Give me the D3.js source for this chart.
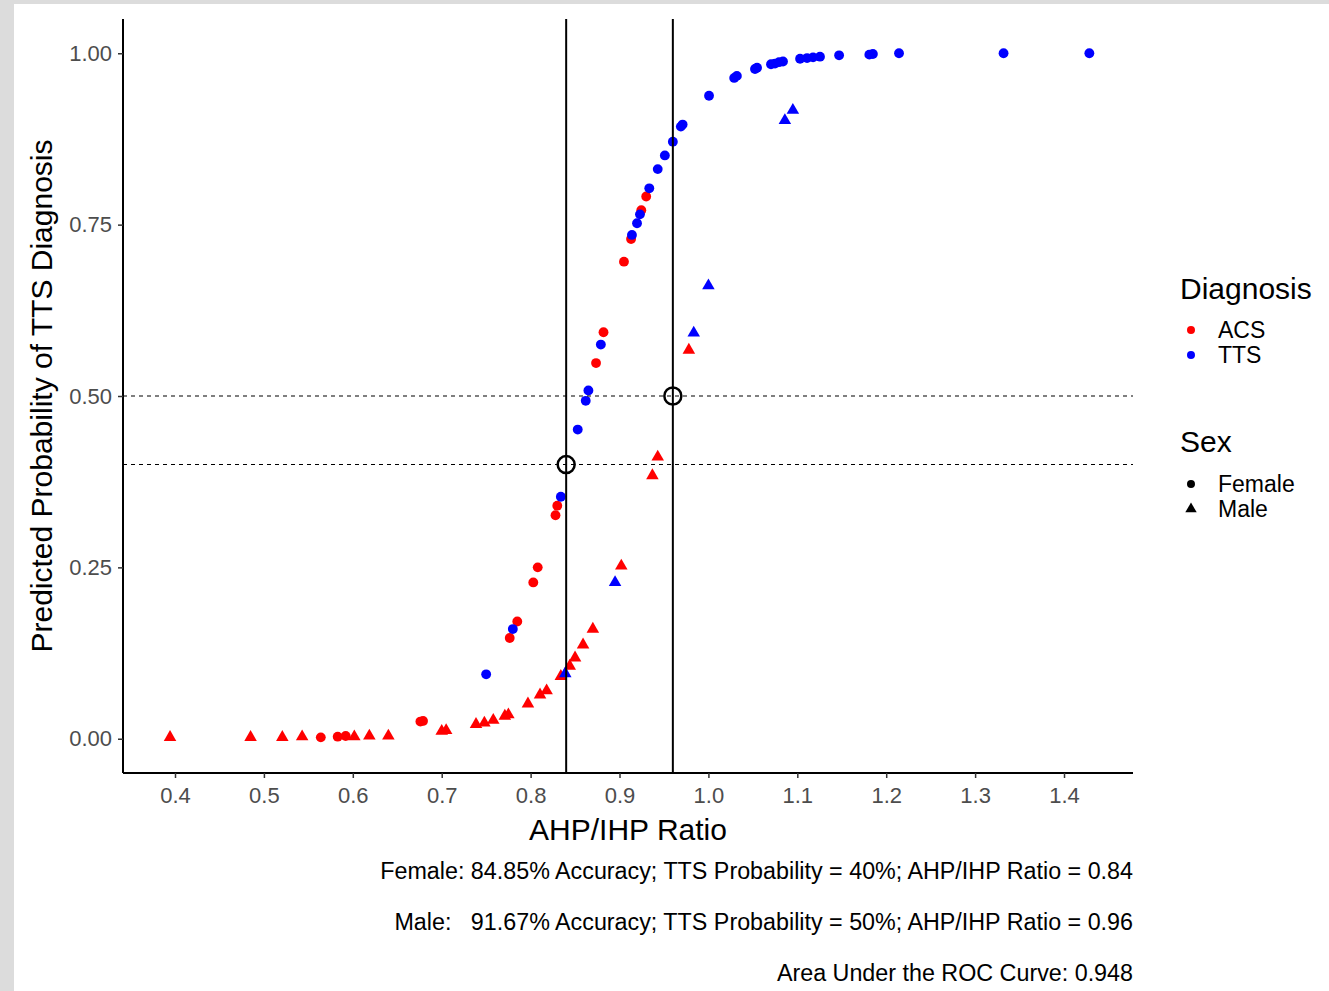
<!DOCTYPE html>
<html>
<head>
<meta charset="utf-8">
<script src="https://cdn.jsdelivr.net/npm/d3@7/dist/d3.min.js"></script>
<style>
  html, body { margin: 0; padding: 0; background: #fff; }
  svg { display: block; font-family: "Liberation Sans", Arial, sans-serif; }
</style>
</head>
<body>
<svg id="chart" width="1329" height="991"></svg>
<script>
// Female, ACS (red circles)
const femaleAcsX = [0.564, 0.583, 0.592, 0.676, 0.679, 0.7765, 0.785, 0.803, 0.808, 0.828, 0.830, 0.8736, 0.882, 0.905, 0.913, 0.9245, 0.930];
const femaleAcsY = [0.002, 0.003, 0.004, 0.025, 0.026, 0.147, 0.171, 0.228, 0.250, 0.326, 0.340, 0.548, 0.593, 0.696, 0.729, 0.771, 0.791];

// Female, TTS (blue circles)
const femaleTtsX = [0.750, 0.780, 0.834, 0.853, 0.862, 0.865, 0.879, 0.914, 0.9197, 0.923, 0.9335, 0.943, 0.951, 0.960, 0.969, 0.971, 1.0007, 1.029, 1.032, 1.0524, 1.0547, 1.0704, 1.0749, 1.0794, 1.0839, 1.1031, 1.111, 1.1177, 1.1255, 1.147, 1.181, 1.185, 1.2144, 1.332, 1.4285];
const femaleTtsY = [0.094, 0.160, 0.353, 0.451, 0.493, 0.508, 0.575, 0.735, 0.752, 0.765, 0.803, 0.831, 0.851, 0.871, 0.893, 0.896, 0.938, 0.964, 0.967, 0.977, 0.979, 0.984, 0.985, 0.987, 0.988, 0.992, 0.993, 0.994, 0.995, 0.997, 0.998, 0.999, 1.0, 1.0, 1.0];

// Male, ACS (red triangles)
const maleAcsX = [0.3944, 0.485, 0.5207, 0.543, 0.6017, 0.6186, 0.640, 0.700, 0.705, 0.7386, 0.748, 0.758, 0.771, 0.775, 0.797, 0.8106, 0.818, 0.834, 0.844, 0.850, 0.859, 0.870, 0.902, 0.937, 0.943, 0.978];
const maleAcsY = [0.002, 0.002, 0.002, 0.003, 0.003, 0.004, 0.004, 0.011, 0.012, 0.021, 0.023, 0.027, 0.033, 0.035, 0.051, 0.064, 0.070, 0.091, 0.106, 0.118, 0.137, 0.160, 0.252, 0.384, 0.411, 0.567];

// Male, TTS (blue triangles)
const maleTtsX = [0.839, 0.895, 0.9835, 1.0, 1.086, 1.095];
const maleTtsY = [0.095, 0.228, 0.592, 0.661, 0.902, 0.917];

// Sex-specific cut-offs: [ratio, probability]
const cutoffRatio = [0.84, 0.96];
const cutoffProb = [0.40, 0.50];

const xTicks = [0.4, 0.5, 0.6, 0.7, 0.8, 0.9, 1.0, 1.1, 1.2, 1.3, 1.4];
const yTicks = [0, 0.25, 0.5, 0.75, 1.0];

const diagnosisLabels = ["ACS", "TTS"];
const diagnosisColors = ["#ff0000", "#0000ff"];
const sexLabels = ["Female", "Male"];

const notes = [
  "Female: 84.85% Accuracy; TTS Probability = 40%; AHP/IHP Ratio = 0.84",
  "Male:   91.67% Accuracy; TTS Probability = 50%; AHP/IHP Ratio = 0.96",
  "Area Under the ROC Curve: 0.948"
];

const svg = d3.select("#chart");
const W = 1329, H = 991;
const panel = { left: 123, right: 1133, top: 19, bottom: 773 };

// page frame
svg.append("rect").attr("width", W).attr("height", H).attr("fill", "#dcdcdc");
svg.append("rect").attr("x", 14).attr("y", 4).attr("width", W - 14).attr("height", H - 4).attr("fill", "#ffffff");

const x = d3.scaleLinear().domain([0.3415, 1.4776]).range([panel.left, panel.right]);
const y = d3.scaleLinear().domain([-0.05, 1.05]).range([panel.bottom, panel.top]);

const zip = (xs, ys) => xs.map((v, i) => ({ x: v, y: ys[i] }));
const groups = [
  { data: zip(femaleAcsX, femaleAcsY), color: diagnosisColors[0], shape: d3.symbolCircle },
  { data: zip(maleAcsX, maleAcsY), color: diagnosisColors[0], shape: d3.symbolTriangle },
  { data: zip(femaleTtsX, femaleTtsY), color: diagnosisColors[1], shape: d3.symbolCircle },
  { data: zip(maleTtsX, maleTtsY), color: diagnosisColors[1], shape: d3.symbolTriangle }
];
const symSize = s => (s === d3.symbolCircle ? 76 : 68);

// points
const pts = svg.append("g");
groups.forEach(g => {
  pts.selectAll(null).data(g.data).enter().append("path")
    .attr("d", d3.symbol().type(g.shape).size(symSize(g.shape)))
    .attr("transform", d => `translate(${x(d.x)},${y(d.y)})`)
    .attr("fill", g.color);
});

// reference lines
const ref = svg.append("g");
cutoffProb.forEach(p => {
  ref.append("line")
    .attr("x1", panel.left).attr("x2", panel.right)
    .attr("y1", y(p)).attr("y2", y(p))
    .attr("stroke", "#000").attr("stroke-width", 1.1).attr("stroke-dasharray", "4,4");
});
cutoffRatio.forEach(r => {
  ref.append("line")
    .attr("x1", x(r)).attr("x2", x(r))
    .attr("y1", panel.top).attr("y2", panel.bottom)
    .attr("stroke", "#000").attr("stroke-width", 2);
});
cutoffRatio.forEach((r, i) => {
  ref.append("circle")
    .attr("cx", x(r)).attr("cy", y(cutoffProb[i])).attr("r", 8.5)
    .attr("fill", "none").attr("stroke", "#000").attr("stroke-width", 2.5);
});

// axes
const xAxis = svg.append("g").attr("transform", `translate(0,${panel.bottom})`)
  .call(d3.axisBottom(x).tickValues(xTicks).tickFormat(d3.format(".1f")).tickSize(5).tickSizeOuter(0).tickPadding(9));
const yAxis = svg.append("g").attr("transform", `translate(${panel.left},0)`)
  .call(d3.axisLeft(y).tickValues(yTicks).tickFormat(d3.format(".2f")).tickSize(5).tickSizeOuter(0).tickPadding(6));
[xAxis, yAxis].forEach(a => {
  a.select(".domain").attr("stroke", "#000").attr("stroke-width", 2);
  a.selectAll(".tick line").attr("stroke", "#333").attr("stroke-width", 1.5);
  a.selectAll(".tick text").attr("fill", "#4d4d4d").style("font-size", "22px").style("font-family", "Liberation Sans, Arial, sans-serif");
});
// axis lines span the full panel
xAxis.select(".domain").attr("d", `M${panel.left},0H${panel.right}`);
yAxis.select(".domain").attr("d", `M0,${panel.bottom}V${panel.top}`);

svg.append("text")
  .attr("x", (panel.left + panel.right) / 2).attr("y", 840)
  .attr("text-anchor", "middle").style("font-size", "30px").text("AHP/IHP Ratio");
svg.append("text")
  .attr("transform", `translate(52,${(panel.top + panel.bottom) / 2}) rotate(-90)`)
  .attr("text-anchor", "middle").style("font-size", "30px").text("Predicted Probability of TTS Diagnosis");

// legends
const leg = svg.append("g");
leg.append("text").attr("x", 1180).attr("y", 299).style("font-size", "30px").text("Diagnosis");
diagnosisLabels.forEach((lab, i) => {
  const cy = 330 + i * 25;
  leg.append("path").attr("d", d3.symbol().type(d3.symbolCircle).size(50)())
    .attr("transform", `translate(1191,${cy})`).attr("fill", diagnosisColors[i]);
  leg.append("text").attr("x", 1218).attr("y", cy + 8).style("font-size", "23px").text(lab);
});
leg.append("text").attr("x", 1180).attr("y", 452).style("font-size", "30px").text("Sex");
[d3.symbolCircle, d3.symbolTriangle].forEach((s, i) => {
  const cy = 484 + i * 25;
  leg.append("path").attr("d", d3.symbol().type(s).size(s === d3.symbolCircle ? 50 : 56)())
    .attr("transform", `translate(1191,${cy})`).attr("fill", "#000");
  leg.append("text").attr("x", 1218).attr("y", cy + 8).style("font-size", "23px").text(sexLabels[i]);
});

// summary notes under the plot
notes.forEach((t, i) => {
  svg.append("text")
    .attr("x", panel.right).attr("y", 879 + i * 51)
    .attr("text-anchor", "end").style("font-size", "23.3px").style("white-space", "pre")
    .text(t);
});
</script>
</body>
</html>
